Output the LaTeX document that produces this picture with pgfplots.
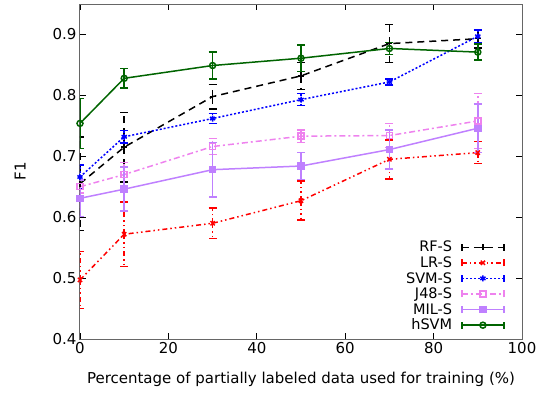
\documentclass[border=0pt]{standalone}
\usepackage{pgfplots}
\pgfplotsset{compat=1.18}
\usepackage{fontspec}
\setmainfont{DejaVu Sans}
\definecolor{jcol}{HTML}{EE82EE}
\definecolor{mcol}{HTML}{BF80FF}
\definecolor{gcol}{HTML}{006400}
\begin{document}
\begin{tikzpicture}[x=1pt,y=1pt]
\begin{axis}[
  scale only axis, width=442pt, height=335pt,
  xmin=0, xmax=100, ymin=0.4, ymax=0.95,
  xtick={0,20,...,100}, ytick={0.4,0.5,...,0.9},
  yticklabel style={/pgf/number format/.cd,fixed,fixed zerofill,precision=1},
  /pgf/number format/assume math mode=true,
  tick align=inside, tick style={black, line width=0.7pt}, major tick length=6pt,
  axis line style={black!60, line width=1pt},
  font=\fontsize{15}{18}\selectfont,
  xlabel={Percentage of partially labeled data used for training (\%)},
  ylabel={F1},
  xlabel style={yshift=-11pt},
  ylabel style={yshift=20pt},
  legend style={draw=none, fill=none, at={(0.968,0.01)}, anchor=south east,
    legend cell align=right, font=\fontsize{14.5}{17}\selectfont, row sep=-0.7pt,
    /tikz/every odd column/.append style={column sep=7pt}},
  legend plot pos=right,
  legend image code/.code={
    \draw[#1] (0pt,0pt) -- (42pt,0pt);
    \draw[#1,solid] (0pt,-3.5pt) -- (0pt,3.5pt) (42pt,-3.5pt) -- (42pt,3.5pt);
    \draw[#1,solid,only marks] plot coordinates {(21pt,0pt)};
  },
  every axis plot/.append style={line width=1.5pt, mark size=3pt},
  error bars/y dir=both, error bars/y explicit,
  error bars/error bar style={line width=1.5pt},
  error bars/error mark options={rotate=90, mark size=4pt, line width=1.5pt},
]
\addplot[black, dash pattern=on 7pt off 5pt, mark=+, mark options={solid}]
 coordinates {(0,0.655)+-(0,0.077) (10,0.715)+-(0,0.057) (30,0.798)+-(0,0.02) (50,0.832)+-(0,0.022) (70,0.885)+-(0,0.031) (90,0.893)+-(0,0.015)};
\addlegendentry{RF-S}
\addplot[red, dash pattern=on 5pt off 3pt on 1.5pt off 3pt on 1.5pt off 3pt, mark=x, mark options={solid}]
 coordinates {(0,0.497)+-(0,0.047) (10,0.572)+-(0,0.053) (30,0.590)+-(0,0.025) (50,0.627)+-(0,0.032) (70,0.695)+-(0,0.032) (90,0.706)+-(0,0.018)};
\addlegendentry{LR-S}
\addplot[blue, dash pattern=on 2pt off 2pt, mark=asterisk, mark options={solid}]
 coordinates {(0,0.666)+-(0,0.02) (10,0.732)+-(0,0.01) (30,0.762)+-(0,0.008) (50,0.793)+-(0,0.01) (70,0.822)+-(0,0.005) (90,0.897)+-(0,0.01)};
\addlegendentry{SVM-S}
\addplot[jcol, dash pattern=on 6pt off 3pt on 2pt off 3pt, mark=square, mark options={solid}]
 coordinates {(0,0.650)+-(0,0.01) (10,0.670)+-(0,0.02) (30,0.716)+-(0,0.013) (50,0.733)+-(0,0.01) (70,0.734)+-(0,0.02) (90,0.758)+-(0,0.045)};
\addlegendentry{J48-S}
\addplot[mcol, solid, mark=square*]
 coordinates {(0,0.631)+-(0,0.03) (10,0.646)+-(0,0.036) (30,0.678)+-(0,0.045) (50,0.684)+-(0,0.022) (70,0.711)+-(0,0.032) (90,0.746)+-(0,0.04)};
\addlegendentry{MIL-S}
\addplot[gcol, solid, mark=o]
 coordinates {(0,0.754)+-(0,0.041) (10,0.828)+-(0,0.016) (30,0.849)+-(0,0.022) (50,0.861)+-(0,0.022) (70,0.877)+-(0,0.01) (90,0.871)+-(0,0.013)};
\addlegendentry{hSVM}
\end{axis}
\path (-80pt,-55pt) rectangle (466pt,339pt);
\end{tikzpicture}
\end{document}
